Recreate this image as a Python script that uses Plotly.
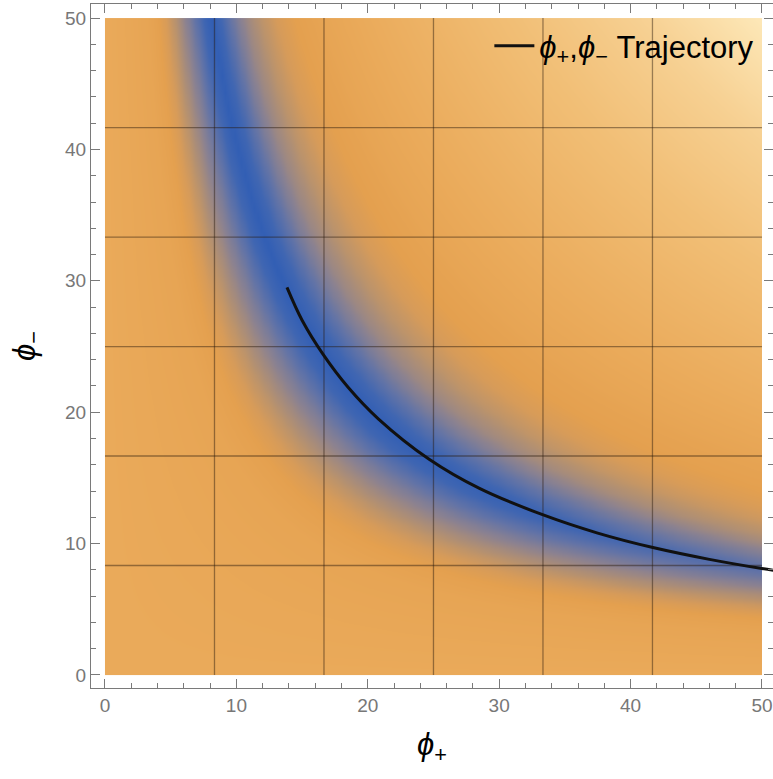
import numpy as np
import plotly.graph_objects as go

# ---- data ----
# trajectory (phi_plus, phi_minus)
traj_phi_plus = [13.85, 15.0, 16.6, 18.5, 20.8, 24.7, 28.5, 33.3, 37.5, 41.7, 46.0, 50.0, 51.0]
traj_phi_minus = [29.5, 27.0, 24.4, 21.9, 19.5, 16.4, 14.2, 12.2, 10.8, 9.7, 8.8, 8.1, 7.95]

# background level of the density map vs product phi_plus*phi_minus
bg_product = [0, 150, 400, 800, 1100, 1500, 2000, 2500]
bg_level = [0.58, 0.54, 0.5, 0.53, 0.62, 0.74, 0.86, 1.0]

# blue valley strength vs product phi_plus*phi_minus
valley_product = [0, 160, 200, 230, 260, 290, 320, 350, 380, 405, 430, 465, 500, 535, 590, 650, 720, 820]
valley_strength = [0, 0, 0.05, 0.12, 0.22, 0.35, 0.5, 0.68, 0.86, 1.0, 0.86, 0.68, 0.5, 0.36, 0.22, 0.12, 0.05, 0]

# valley depth along phi_plus
depth_phi_plus = [0, 20, 30, 40, 50]
depth_value = [0.97, 0.97, 0.9, 0.78, 0.66]

# grid lines of the density plot
grid_positions = [50/6, 100/6, 150/6, 200/6, 250/6]

tick_values = [0, 10, 20, 30, 40, 50]

# ---- build field table ----
step = 0.25
cx = np.arange(step/2, 50, step)
cy = np.arange(step/2, 50, step)
X, Y = np.meshgrid(cx, cy)
P = X * Y
bg = np.interp(P, bg_product, bg_level)
vs = np.interp(P, valley_product, valley_strength)
dp = np.interp(X, depth_phi_plus, depth_value)
Z = bg * (1 - vs * dp)

colorscale = [
    [0.0, '#2F5DB5'], [0.1, '#4066B2'], [0.2, '#6474A6'], [0.3, '#8C8290'],
    [0.4, '#B8926E'], [0.46, '#D69B5A'], [0.5, '#E4A04F'], [0.58, '#EAAA5A'],
    [0.75, '#F1BE75'], [0.88, '#F7D295'], [1.0, '#FDE8B8'],
]

fig = go.Figure()
fig.add_trace(go.Heatmap(x=cx, y=cy, z=Z, colorscale=colorscale, zmin=0, zmax=1,
                         zsmooth='best', showscale=False, hoverinfo='skip'))

gx, gy = [], []
for g in grid_positions:
    gx += [g, g, None]
    gy += [0, 50, None]
    gx += [0, 50, None]
    gy += [g, g, None]
fig.add_trace(go.Scatter(x=gx, y=gy, mode='lines', line=dict(color='rgba(40,25,10,0.45)', width=1.3),
                         showlegend=False, hoverinfo='skip'))

fig.add_trace(go.Scatter(x=traj_phi_plus, y=traj_phi_minus, mode='lines',
                         line=dict(color='#111111', width=3, shape='spline'),
                         name='<i>ϕ</i><sub>+</sub>,<i>ϕ</i><sub>−</sub> Trajectory'))

axis_common = dict(
    showline=True, linecolor='#7a7a7a', linewidth=1.3, mirror='ticks',
    ticks='inside', ticklen=9, tickcolor='#7a7a7a', tickwidth=1.2,
    tickvals=tick_values, showgrid=False, zeroline=False,
    tickfont=dict(family='Liberation Sans, Arial', size=19, color='#777777'),
    minor=dict(dtick=2, tick0=0, ticks='inside', ticklen=5, tickcolor='#7a7a7a', tickwidth=1, showgrid=False),
)

fig.update_layout(
    width=773, height=779,
    margin=dict(l=91, r=0, t=4, b=91),
    paper_bgcolor='white', plot_bgcolor='white',
    xaxis=dict(range=[-1.065, 50.84],
               title=dict(text='<i>ϕ</i><sub>+</sub>', font=dict(family='Liberation Sans, Arial', size=31, color='black'), standoff=18),
               **axis_common),
    yaxis=dict(range=[-0.99, 51.07],
               title=dict(text='<i>ϕ</i><sub>−</sub>', font=dict(family='Liberation Sans, Arial', size=31, color='black'), standoff=20),
               **axis_common),
    legend=dict(x=0.98, xanchor='right', y=0.978, yanchor='top', bgcolor='rgba(0,0,0,0)',
                itemwidth=40,
                font=dict(family='Liberation Sans, Arial', size=31, color='black')),
    showlegend=True,
)

fig.write_html("out.html", config={'displayModeBar': False},
               post_script="document.body.style.margin='0';document.body.style.overflow='hidden';")
